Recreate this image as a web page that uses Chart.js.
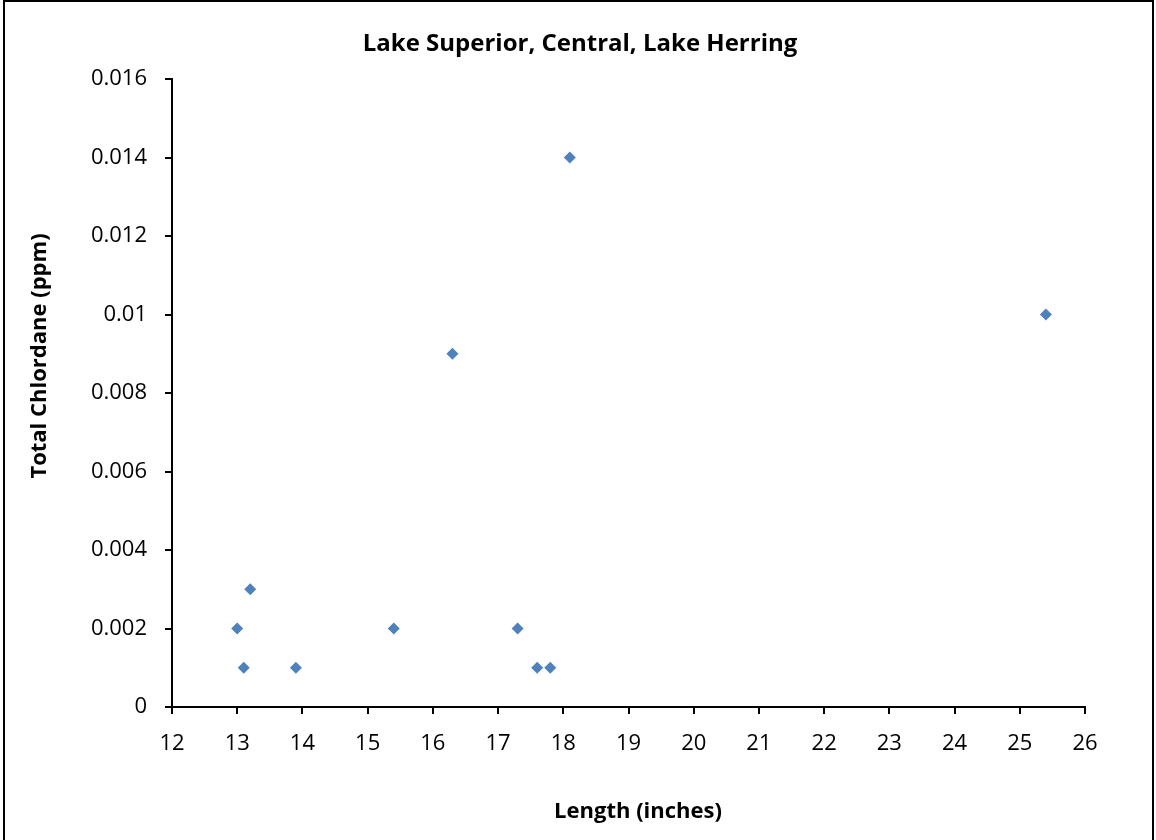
<!DOCTYPE html>
<html>
<head>
<meta charset="utf-8">
<script src="https://cdn.jsdelivr.net/npm/chart.js@4/dist/chart.umd.min.js"></script>
<style>
html,body{margin:0;padding:0;background:#fff;}
#wrap{width:1156px;height:840px;position:relative;}
</style>
</head>
<body>
<div id="wrap"><canvas id="c" width="1156" height="840"></canvas></div>
<script>
const lengths = [13.0, 13.1, 13.2, 13.9, 15.4, 16.3, 17.3, 17.6, 17.8, 18.1, 25.4];
const chlordane = [0.002, 0.001, 0.003, 0.001, 0.002, 0.009, 0.002, 0.001, 0.001, 0.014, 0.010];
const titleText = 'Lake Superior, Central, Lake Herring';
const xTitle = 'Length (inches)';
const yTitle = 'Total Chlordane (ppm)';

const FONT = "'Open Sans', 'Liberation Sans', sans-serif";

const points = lengths.map((x, i) => ({x: x, y: chlordane[i]}));

const frame = {
  id: 'frame',
  afterDraw(chart) {
    const ctx = chart.ctx;
    ctx.save();
    ctx.strokeStyle = '#000';
    ctx.lineWidth = 2;
    ctx.beginPath();
    ctx.moveTo(4, 845); ctx.lineTo(4, 1); ctx.lineTo(1153, 1); ctx.lineTo(1153, 845);
    ctx.stroke();
    ctx.fillStyle = '#000';
    ctx.textAlign = 'center';
    ctx.textBaseline = 'middle';
    ctx.font = "bold 24px " + FONT;
    ctx.fillText(titleText, 580, 44);
    ctx.font = "bold 22px " + FONT;
    ctx.fillText(xTitle, 638, 812);
    ctx.translate(40, 356);
    ctx.rotate(-Math.PI / 2);
    ctx.fillText(yTitle, 0, 0);
    ctx.restore();
  }
};

new Chart(document.getElementById('c'), {
  type: 'scatter',
  data: {
    datasets: [{
      data: points,
      pointStyle: 'rectRot',
      pointRadius: 6,
      pointHoverRadius: 6,
      backgroundColor: '#4F81BD',
      borderColor: '#4F81BD',
      borderWidth: 0
    }]
  },
  options: {
    responsive: false,
    animation: false,
    devicePixelRatio: 1,
    layout: { padding: { left: 0, right: 71, top: 79, bottom: 0 } },
    plugins: {
      legend: { display: false },
      tooltip: { enabled: false },
      title: { display: false }
    },
    scales: {
      x: {
        type: 'linear',
        min: 12, max: 26,
        ticks: { stepSize: 1, color: '#000', font: { family: FONT, size: 22 }, padding: 17, maxRotation: 0 },
        grid: { display: true, drawOnChartArea: false, drawTicks: true, tickLength: 7, color: '#000', lineWidth: 2 },
        border: { display: true, color: '#000', width: 2 },
        afterFit(s) { s.height = 133; }
      },
      y: {
        type: 'linear',
        min: 0, max: 0.016,
        ticks: { stepSize: 0.002, color: '#000', font: { family: FONT, size: 22 }, padding: 18,
          callback: v => String(Number(v.toFixed(3))) },
        grid: { display: true, drawOnChartArea: false, drawTicks: true, tickLength: 7, color: '#000', lineWidth: 2 },
        border: { display: true, color: '#000', width: 2 },
        afterFit(s) { s.width = 172; }
      }
    }
  },
  plugins: [frame]
});
</script>
</body>
</html>
